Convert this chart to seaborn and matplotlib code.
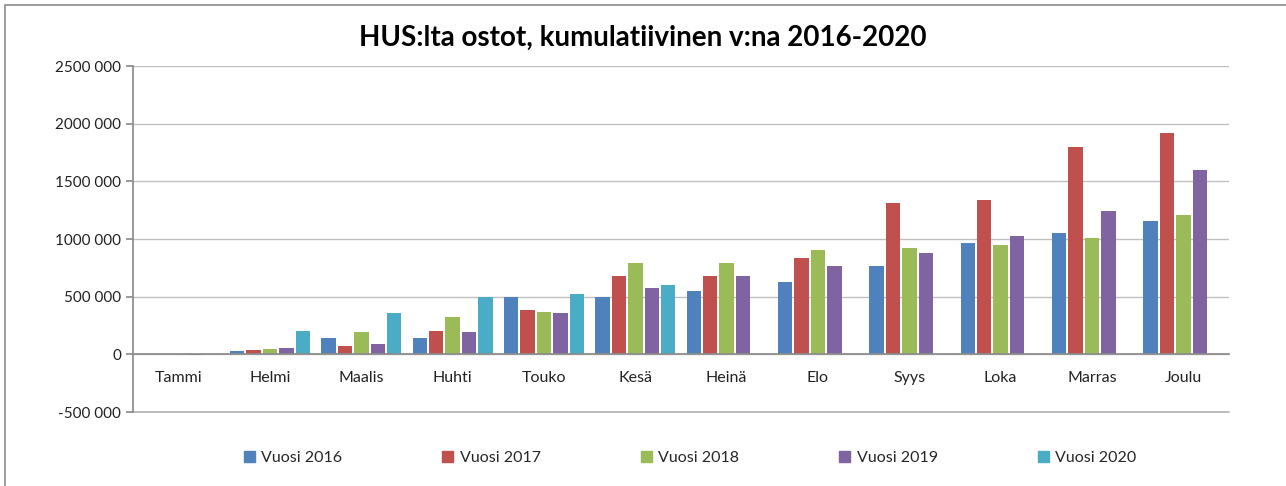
import numpy as np
import pandas as pd
import matplotlib
matplotlib.use("Agg")
import matplotlib.pyplot as plt
import matplotlib.patches as mpatches
import seaborn as sns

months = ['Tammi', 'Helmi', 'Maalis', 'Huhti', 'Touko', 'Kesä',
          'Heinä', 'Elo', 'Syys', 'Loka', 'Marras', 'Joulu']
years = ['Vuosi 2016', 'Vuosi 2017', 'Vuosi 2018', 'Vuosi 2019', 'Vuosi 2020']

v2016 = [0, 29000, 145000, 145000, 495000, 500000, 550000, 625000, 770000, 966000, 1048000, 1160000]
v2017 = [0, 38000, 69000, 205000, 382000, 683000, 683000, 839000, 1311000, 1337000, 1800000, 1915000]
v2018 = [-8000, 49000, 191000, 321000, 367000, 796000, 796000, 903000, 926000, 946000, 1007000, 1204000]
v2019 = [-8000, 55000, 90000, 191000, 362000, 573000, 683000, 770000, 877000, 1027000, 1247000, 1594000]
v2020 = [0, 200000, 362000, 495000, 524000, 605000]

colors = ['#4F81BD', '#C0504D', '#9BBB59', '#8064A2', '#4BACC6']

rows = []
for year, vals in zip(years, [v2016, v2017, v2018, v2019, v2020]):
    for m, v in zip(months, vals):
        rows.append({'month': m, 'year': year, 'value': v})
df = pd.DataFrame(rows)

sns.set_theme(style='white')
plt.rcParams['font.family'] = ['Lato', 'DejaVu Sans']

fig = plt.figure(figsize=(12.86, 4.86), dpi=100)
ax = fig.add_axes([133 / 1286, 74 / 486, 1096 / 1286, 346 / 486])

sns.barplot(data=df, x='month', y='value', hue='year', order=months, hue_order=years,
            palette=colors, width=0.9, gap=0.12, saturation=1, linewidth=0,
            legend=False, ax=ax)

ax.set_ylim(-500000, 2500000)
ax.set_xlim(-0.5, 11.5)
ax.set_yticks(np.arange(-500000, 2500001, 500000))
ax.set_yticklabels(['0' if t == 0 else f"{int(t / 1000)} 000" for t in ax.get_yticks()])
ax.yaxis.grid(True, color='#c0c0c0', linewidth=1)
ax.axhline(-500000, color='#b0b0b0', linewidth=1.2, clip_on=False, zorder=0)
ax.set_axisbelow(True)
ax.set_xlabel('')
ax.set_ylabel('')

for s in ['top', 'right']:
    ax.spines[s].set_visible(False)
ax.spines['left'].set_color('#8c8c8c')
ax.spines['bottom'].set_position(('data', 0))
ax.spines['bottom'].set_color('#8c8c8c')
ax.tick_params(axis='y', length=5, color='#8c8c8c', labelsize=11, labelcolor='#222222', left=True)
ax.tick_params(axis='x', length=0, pad=12, labelsize=11.5, labelcolor='#222222')

fig.text(0.5, 1 - 38 / 486, 'HUS:lta ostot, kumulatiivinen v:na 2016-2020',
         ha='center', va='center', fontsize=20, fontweight='bold', color='black')

handles = [mpatches.Patch(color=c, label=y) for c, y in zip(colors, years)]
fig.legend(handles=handles, ncol=5, loc='center', bbox_to_anchor=(690 / 1286, 1 - 458 / 486),
           frameon=False, fontsize=11.5, handlelength=0.7, handleheight=0.7,
           handletextpad=0.4, columnspacing=6.25)

fig.patches.append(mpatches.Rectangle((5 / 1286, -0.1), 1.2, 1.1 - 5 / 486,
                                      transform=fig.transFigure, fill=False,
                                      edgecolor='#8c8c8c', linewidth=1.2))

fig.savefig('out.png', dpi=100)
